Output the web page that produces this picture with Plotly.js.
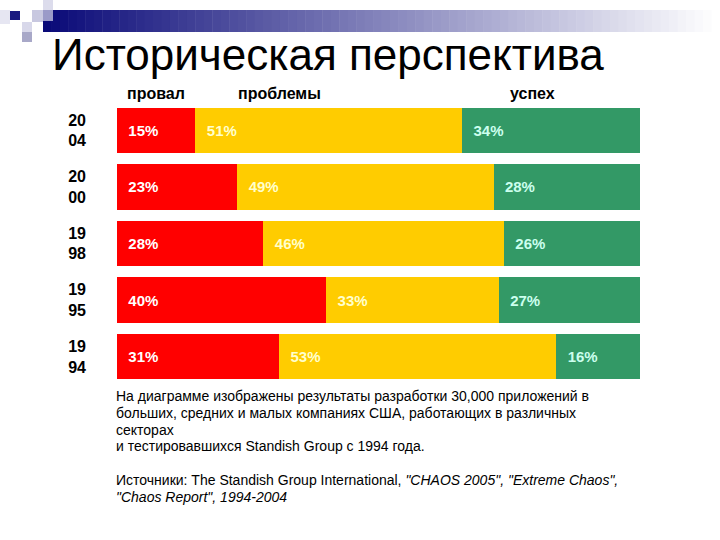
<!DOCTYPE html>
<html>
<head>
<meta charset="utf-8">
<script src="https://cdn.plot.ly/plotly-3.0.1.min.js"></script>
<style>html,body{margin:0;padding:0;background:#fff;}#chart{width:720px;height:540px;}</style>
</head>
<body>
<div id="chart"></div>
<script>
// ---- data ----
const years = ["2004", "2000", "1998", "1995", "1994"];
const yearLabels = ["20<br>04", "20<br>00", "19<br>98", "19<br>95", "19<br>94"];
const seriesNames = ["провал", "проблемы", "успех"];
const failed = [15, 23, 28, 40, 31];
const challenged = [51, 49, 46, 33, 53];
const succeeded = [34, 28, 26, 27, 16];
const titleText = "Историческая перспектива";
const noteLines = [
  "На диаграмме изображены результаты разработки 30,000 приложений в",
  "больших, средних и малых компаниях США, работающих в различных",
  "секторах",
  "и тестировавшихся Standish Group с 1994 года.",
  "",
  "Источники: The Standish Group International, <i>\"CHAOS 2005\", \"Extreme Chaos\",</i>",
  "<i>\"Chaos Report\", 1994-2004</i>"
];

// ---- layout geometry (pixels) ----
const W = 720, H = 540;
const L = 117, R = 640, T = 102, B = 385;
const px = x => (x - L) / (R - L);
const py = y => (B - y) / (B - T);
const FONT = "Liberation Sans, Arial, sans-serif";

const colors = ["#FF0000", "#FFCC00", "#339966"];
const textColors = ["#FFFFFF", "#FFFFCC", "#CCFFEE"];
const vals = [failed, challenged, succeeded];
const pad = "\u00a0\u00a0";

const traces = vals.map((v, i) => ({
  type: "bar",
  orientation: "h",
  name: seriesNames[i],
  y: years,
  x: v,
  text: v.map(n => pad + n + "%"),
  textposition: "inside",
  insidetextanchor: "start",
  textangle: 0,
  textfont: {family: FONT, size: 15, color: textColors[i], weight: "bold"},
  marker: {color: colors[i], line: {width: 0}},
  hoverinfo: "skip",
  cliponaxis: false
}));

// decorative gradient band & squares
const shapes = [];
const x0 = 43, x1 = 720, steps = 80;
for (let k = 0; k < steps; k++) {
  const a = x0 + (x1 - x0) * k / steps;
  const b = x0 + (x1 - x0) * (k + 1) / steps + 0.5;
  const t = k / (steps - 1);
  const r = Math.round(10 + 245 * t), g = Math.round(10 + 245 * t), bl = Math.round(120 + 135 * t);
  shapes.push({type: "rect", xref: "paper", yref: "paper", x0: px(a), x1: px(b), y0: py(32), y1: py(10),
    fillcolor: `rgb(${r},${g},${bl})`, line: {width: 0}, layer: "below"});
}
const squares = [
  [0, 10, 10, 24, "#e6e6f2"],
  [10, 11, 20, 20, "#1a1a80"],
  [32, 10, 43, 22, "#c8c8e0"],
  [43, 0, 53, 10, "#dcdcec"],
  [43, 10, 53, 21, "#9a9ac8"],
  [22, 22, 32, 32, "#d8d8ea"],
  [22, 32, 32, 42, "#a8a8c8"]
];
squares.forEach(s => shapes.push({type: "rect", xref: "paper", yref: "paper",
  x0: px(s[0]), x1: px(s[2]), y0: py(s[3]), y1: py(s[1]), fillcolor: s[4], line: {width: 0}}));

const headerX = [156, 279, 532];
const annotations = seriesNames.map((n, i) => ({
  text: "<b>" + n + "</b>", xref: "paper", yref: "paper", x: px(headerX[i]), y: py(93),
  xanchor: "center", yanchor: "middle", showarrow: false,
  font: {family: FONT, size: 16, color: "#000"}
}));
noteLines.forEach((line, k) => {
  if (!line) return;
  annotations.push({
    text: line, xref: "paper", yref: "paper", x: px(114), y: py(396 + k * 16.8),
    xanchor: "left", yanchor: "middle", align: "left", showarrow: false,
    font: {family: FONT, size: 14, color: "#000"}
  });
});

const layout = {
  width: W, height: H,
  margin: {l: L, r: W - R, t: T, b: H - B, pad: 0},
  paper_bgcolor: "#fff", plot_bgcolor: "#fff",
  barmode: "stack", bargap: 0.2,
  showlegend: false,
  title: {
    text: titleText, xref: "container", yref: "container",
    x: 52 / W, xanchor: "left", y: 1 - 55 / H, yanchor: "middle",
    font: {family: FONT, size: 44, color: "#000"}
  },
  xaxis: {range: [0, 100], visible: false, fixedrange: true},
  yaxis: {
    type: "category", categoryorder: "array", categoryarray: years, autorange: "reversed",
    tickmode: "array", tickvals: years, ticktext: yearLabels,
    showgrid: false, zeroline: false, showline: false, ticks: "",
    ticklabelstandoff: 30,
    tickfont: {family: FONT, size: 16, color: "#000", weight: "bold"}
  },
  shapes: shapes,
  annotations: annotations
};

Plotly.newPlot("chart", traces, layout, {staticPlot: true, displayModeBar: false});
</script>
</body>
</html>
